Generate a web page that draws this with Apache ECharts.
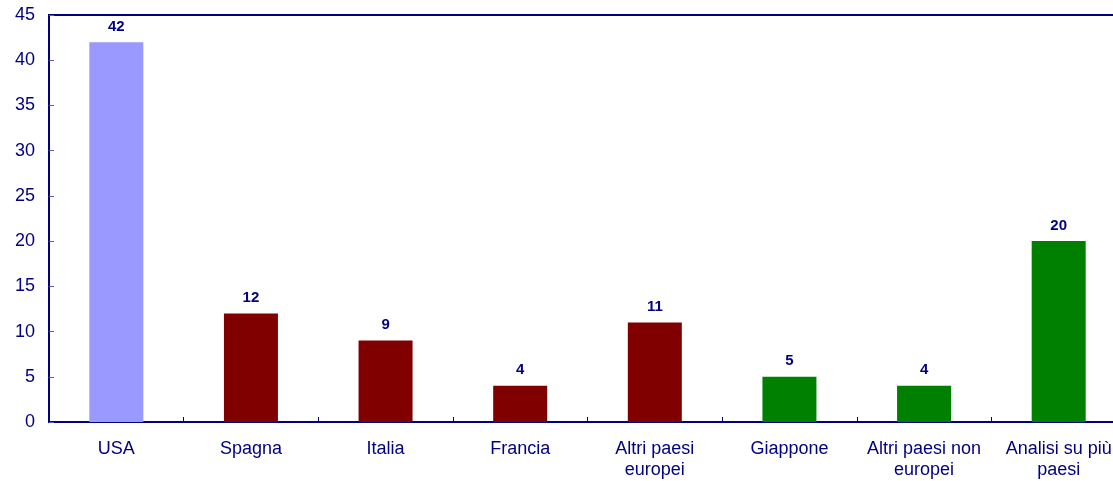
<!DOCTYPE html>
<html><head><meta charset="utf-8">
<script src="https://cdn.jsdelivr.net/npm/echarts@6/dist/echarts.min.js"></script>
<style>html,body{margin:0;padding:0;background:#fff;overflow:hidden}#w{width:1113px;height:481px;overflow:hidden;position:relative}#c{width:1126px;height:481px;position:absolute;left:0;top:0}</style>
</head><body><div id="w"><div id="c"></div></div>
<script>
const categories = ["USA", "Spagna", "Italia", "Francia", "Altri paesi\neuropei", "Giappone", "Altri paesi non\neuropei", "Analisi su più\npaesi"];
const values = [42, 12, 9, 4, 11, 5, 4, 20];
const barColors = ["#9999FF", "#800000", "#800000", "#800000", "#800000", "#008000", "#008000", "#008000"];
const yTicks = [0, 5, 10, 15, 20, 25, 30, 35, 40, 45];

const navy = "#000080";
const font = 'Liberation Sans, Arial, sans-serif';
const chart = echarts.init(document.getElementById('c'), null, {renderer: 'canvas'});
chart.setOption({
  animation: false,
  backgroundColor: '#fff',
  grid: {left: 49, top: 15, bottom: 56, right: 0, containLabel: false,
         show: true, borderColor: navy, borderWidth: 2},
  xAxis: {
    type: 'category', data: categories,
    axisLine: {lineStyle: {color: navy, width: 1.5}},
    axisTick: {show: true, inside: true, length: 5, alignWithLabel: false, lineStyle: {color: navy}},
    axisLabel: {color: navy, fontFamily: font, fontSize: 18, margin: 17, lineHeight: 21, interval: 0}
  },
  yAxis: {
    type: 'value', min: yTicks[0], max: yTicks[yTicks.length - 1], interval: 5,
    splitLine: {show: false},
    axisLine: {show: true, lineStyle: {color: navy, width: 2}},
    axisTick: {show: true, inside: true, length: 5, lineStyle: {color: '#5a5aa8'}},
    axisLabel: {color: navy, fontFamily: font, fontSize: 18, margin: 14}
  },
  series: [{
    type: 'bar',
    data: values.map((v, i) => ({value: v, itemStyle: {color: barColors[i]}})),
    barWidth: 54,
    label: {show: true, position: 'top', distance: 8, color: navy, fontWeight: 'bold',
            fontFamily: font, fontSize: 15}
  }]
});
</script></body></html>
